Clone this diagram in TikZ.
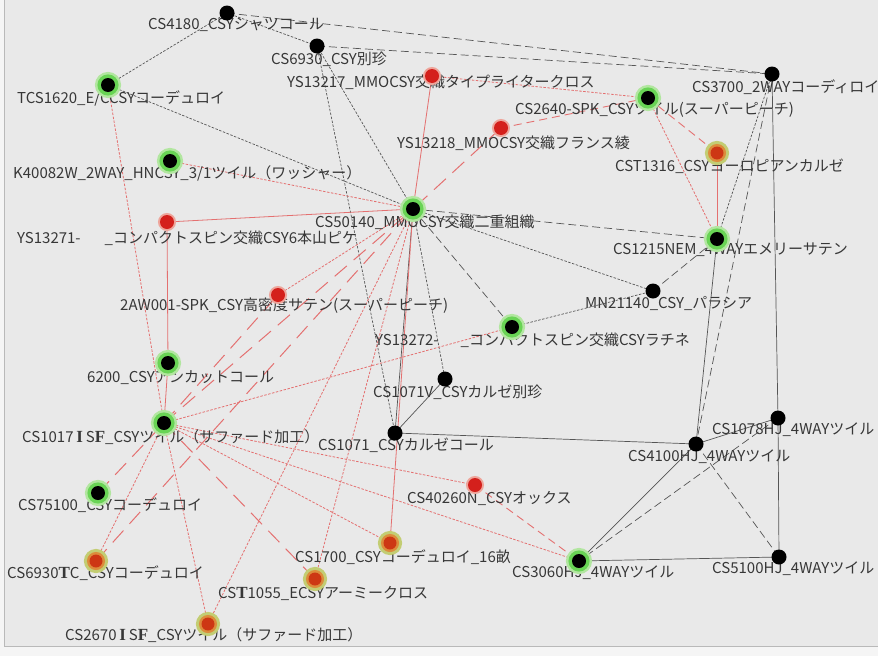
\documentclass[tikz,border=0pt]{standalone}
\usepackage{fontspec}
\newfontfamily\jpf{Noto Sans CJK JP}
\newfontfamily\srff{Liberation Serif}
\newcommand\wideltr[1]{{\srff\bfseries\fontsize{17}{17}\selectfont #1}}
\pgfdeclarelayer{back}
\pgfdeclarelayer{edges}
\pgfsetlayers{back,edges,main}
\definecolor{bgc}{RGB}{233,233,233}
\definecolor{outc}{RGB}{245,245,245}
\definecolor{framec}{RGB}{185,185,185}
\definecolor{gline}{RGB}{85,85,85}
\definecolor{rline}{RGB}{228,112,112}
\definecolor{txtc}{RGB}{55,55,55}
\definecolor{glowg}{RGB}{105,212,85}
\definecolor{glowl}{RGB}{178,230,160}
\definecolor{redn}{RGB}{212,32,28}
\definecolor{redglow}{RGB}{238,165,155}
\definecolor{orn}{RGB}{205,55,20}
\definecolor{ormid}{RGB}{220,140,60}
\definecolor{orglow}{RGB}{195,205,115}
\tikzset{
  lbl/.style={anchor=west,inner sep=0pt,text=txtc,font=\jpf\fontsize{15}{16}\selectfont},
  bnode/.style={circle,inner sep=0pt,minimum size=15pt,fill=black},
  gnode/.style={circle,inner sep=0pt,minimum size=14pt,fill=black,
     preaction={draw=glowl,line width=12pt},
     preaction={draw=glowg,line width=7pt}},
  rnode/.style={circle,inner sep=0pt,minimum size=14pt,fill=redn,
     preaction={draw=redglow,line width=4pt}},
  onode/.style={circle,inner sep=0pt,minimum size=13pt,fill=orn,
     preaction={draw=orglow,line width=11pt},
     preaction={draw=ormid,line width=5pt}},
  gsolid/.style={draw=gline,line width=0.7pt},
  gdot/.style={draw=gline,line width=0.7pt,dash pattern=on 2.5pt off 1.5pt},
  gdash/.style={draw=gline,line width=0.7pt,dash pattern=on 8pt off 4pt},
  rsolid/.style={draw=rline,line width=0.8pt},
  rdot/.style={draw=rline,line width=0.8pt,dash pattern=on 2.5pt off 1.5pt},
  rdash/.style={draw=rline,line width=0.9pt,dash pattern=on 8pt off 5pt},
  rlong/.style={draw=rline,line width=1pt,dash pattern=on 16pt off 9pt},
}
\newcommand\mklab[4]{\node[lbl] (#1) at (#2,#3) {#4};}
\begin{document}
\begin{tikzpicture}[x=1pt,y=-1pt]
\useasboundingbox (0,0) rectangle (878,656);
\begin{pgfonlayer}{back}
\fill[outc] (0,0) rectangle (878,656);
\fill[bgc] (4,0) rectangle (878,646);
\draw[framec,line width=0.8pt] (4,0) -- (4,646) -- (878,646);
\end{pgfonlayer}

% labels
\mklab{l4180}{148}{25}{CS4180\_CSYシャツコール}
\mklab{l6930}{271}{59}{CS6930\_CSY別珍}
\mklab{lT1620}{17}{98}{TCS1620\_E/CCSYコーデュロイ}
\mklab{l13217}{287}{82}{YS13217\_MMOCSY交織タイプライタークロス}
\mklab{l2640}{515}{110}{CS2640-SPK\_CSYツイル(スーパーピーチ)}
\mklab{l3700}{692}{87}{CS3700\_2WAYコーディロイ}
\mklab{l13218}{397}{143}{YS13218\_MMOCSY交織フランス綾}
\mklab{lT1316}{615}{166}{CST1316\_CSYヨーロピアンカルゼ}
\mklab{lK40082}{13}{173}{K40082W\_2WAY\_HNCSY\_3/1ツイル（ワッシャー）}
\mklab{l50140}{315}{222}{CS50140\_MMOCSY交織二重組織}
\mklab{l13271}{17}{238}{YS13271-\hspace{24pt}\_コンパクトスピン交織CSY6本山ピケ}
\mklab{l1215}{613}{250}{CS1215NEM\_4WAYエメリーサテン}
\mklab{lMN}{585}{303}{MN21140\_CSY\_パラシア}
\mklab{l2AW}{120}{306}{2AW001-SPK\_CSY高密度サテン(スーパーピーチ)}
\mklab{l13272}{375}{340}{YS13272-\hspace{22pt}\_コンパクトスピン交織CSYラチネ}
\mklab{l6200}{87}{378}{6200\_CSYアンカットコール}
\mklab{l1071V}{373}{392}{CS1071V\_CSYカルゼ別珍}
\mklab{l1017}{22}{437}{CS1017\wideltr{\,I\,}S\wideltr{F}\_CSYツイル（サファード加工）}
\mklab{l1071}{318}{445}{CS1071\_CSYカルゼコール}
\mklab{l4100}{628}{457}{CS4100HJ\_4WAYツイル}
\mklab{l1078}{712}{430}{CS1078HJ\_4WAYツイル}
\mklab{l40260}{407}{498}{CS40260N\_CSYオックス}
\mklab{l75100}{18}{505}{CS75100\_CSYコーデュロイ}
\mklab{l1700}{295}{557}{CS1700\_CSYコーデュロイ\_16畝}
\mklab{l6930TC}{7}{573}{CS6930\wideltr{T}C\_CSYコーデュロイ}
\mklab{l3060}{512}{573}{CS3060HJ\_4WAYツイル}
\mklab{l5100}{712}{569}{CS5100HJ\_4WAYツイル}
\mklab{lT1055}{218}{593}{CS\wideltr{T}1055\_ECSYアーミークロス}
\mklab{l2670}{65}{635}{CS2670\wideltr{\,I\,}S\wideltr{F}\_CSYツイル（サファード加工）}

% nodes
\node[bnode] (n4180) at (227,13) {};
\node[bnode] (n6930) at (317,46) {};
\node[gnode] (nT1620) at (108,85) {};
\node[rnode] (n13217) at (432,76) {};
\node[rnode] (n13218) at (501,128) {};
\node[gnode] (n2640) at (648,98) {};
\node[bnode] (n3700) at (772,74) {};
\node[onode] (nT1316) at (717,153) {};
\node[gnode] (nK40082) at (170,161) {};
\node[gnode] (n50140) at (413,209) {};
\node[rnode] (n13271) at (167,222) {};
\node[gnode] (n1215) at (717,239) {};
\node[bnode] (nMN) at (653,291) {};
\node[rnode] (n2AW) at (278,295) {};
\node[gnode] (n13272) at (512,327) {};
\node[gnode] (n6200) at (168,363) {};
\node[bnode] (n1071V) at (445,379) {};
\node[gnode] (n1017) at (164,423) {};
\node[bnode] (n1071) at (395,433) {};
\node[bnode] (n4100) at (696,444) {};
\node[bnode] (n1078) at (778,418) {};
\node[rnode] (n40260) at (475,485) {};
\node[gnode] (n75100) at (98,493) {};
\node[onode] (n1700) at (390,543) {};
\node[onode] (n6930TC) at (96,561) {};
\node[gnode] (n3060) at (579,561) {};
\node[bnode] (n5100) at (779,557) {};
\node[onode] (nT1055) at (315,579) {};
\node[onode] (n2670) at (208,624) {};

\begin{pgfonlayer}{edges}
% gray connectors
\draw[gdot] (n4180.center) -- (nT1620.center);
\draw[gdot] (n4180.center) -- (n6930.center);
\draw[gdash] (n4180.center) -- (n3700.center);
\draw[gdash] (n6930.center) -- (n3700.center);
\draw[gdot] (n6930.center) -- (n50140.center);
\draw[gdot] (n6930.center) -- (n1071.center);
\draw[gdot] (nT1620.center) -- (n50140.center);
\draw[gdash] (n50140.center) -- (n1215.center);
\draw[gdot] (n50140.center) -- (nMN.center);
\draw[gdash] (n50140.center) -- (n13272.center);
\draw[gdot] (n50140.center) -- (n1071V.center);
\draw[gsolid] (n50140.center) -- (n1071.center);
\draw[gdash] (nMN.center) -- (n1215.center);
\draw[gdot] (nMN.center) -- (n13272.center);
\draw[gdot] (n3700.center) -- (n1215.center);
\draw[gdash] (n3700.center) -- (n4100.center);
\draw[gsolid] (n3700.center) -- (n1078.center);
\draw[gsolid] (n1078.center) -- (n5100.center);
\draw[gsolid] (n1215.center) -- (n4100.center);
\draw[gsolid] (n1071V.center) -- (n1071.center);
\draw[gsolid] (n1071.center) -- (n4100.center);
\draw[gsolid] (n4100.center) -- (n1078.center);
\draw[gdash] (n4100.center) -- (n5100.center);
\draw[gdash] (n1078.center) -- (n3060.center);
\draw[gsolid] (n4100.center) -- (n3060.center);
\draw[gsolid] (n3060.center) -- (n5100.center);
% red connectors
\draw[rdot] (nT1620.center) -- (n1017.center);
\draw[rdot] (nK40082.center) -- (n50140.center);
\draw[rsolid] (n13271.center) -- (n50140.center);
\draw[rsolid] (n13271.center) -- (n6200.center);
\draw[rsolid] (n6200.center) -- (n1017.center);
\draw[rsolid] (n13217.center) -- (n50140.center);
\draw[rdot] (n13217.center) -- (n2640.center);
\draw[rdash] (n13218.center) -- (n2640.center);
\draw[rlong] (n13218.center) -- (n50140.center);
\draw[rdash] (n2640.center) -- (nT1316.center);
\draw[rdot] (n2640.center) -- (n1215.center);
\draw[rsolid] (nT1316.center) -- (n1215.center);
\draw[rdot] (n2AW.center) -- (n50140.center);
\draw[rlong] (n1017.center) -- (n2AW.center);
\draw[rlong] (n75100.center) -- (n1017.center);
\draw[rlong] (n1017.center) -- (n50140.center);
\draw[rdot] (n1017.center) -- (n13272.center);
\draw[rdot] (n1017.center) -- (n40260.center);
\draw[rdot] (n1017.center) -- (n1700.center);
\draw[rdot] (n1017.center) -- (n3060.center);
\draw[rlong] (n1017.center) -- (nT1055.center);
\draw[rdot] (n1017.center) -- (n2670.center);
\draw[rdot] (n1017.center) -- (n6930TC.center);
\draw[rlong] (n6930TC.center) -- (n50140.center);
\draw[rdot] (nT1055.center) -- (n50140.center);
\draw[rdot] (n2670.center) -- (n50140.center);
\draw[rsolid] (n1700.center) -- (n50140.center);
\draw[rdash] (n40260.center) -- (n3060.center);
\end{pgfonlayer}
\end{tikzpicture}
\end{document}
